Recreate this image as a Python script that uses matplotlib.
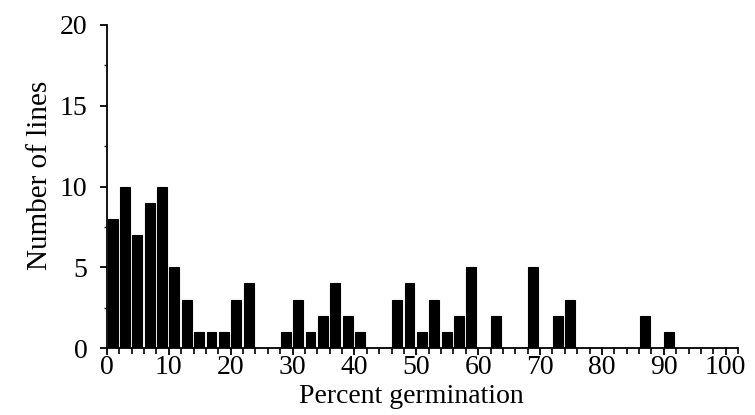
import numpy as np
import matplotlib
matplotlib.use('Agg')
import matplotlib.pyplot as plt
from matplotlib.ticker import MultipleLocator

# germination classes (left edge of each 2% class) and number of lines
bin_left = [0, 2, 4, 6, 8, 10, 12, 14, 16, 18, 20, 22,
            28, 30, 32, 34, 36, 38, 40,
            46, 48, 50, 52, 54, 56, 58, 62,
            68, 72, 74, 86, 90]
n_lines = [8, 10, 7, 9, 10, 5, 3, 1, 1, 1, 3, 4,
           1, 3, 1, 2, 4, 2, 1,
           3, 4, 1, 3, 1, 2, 5, 2,
           5, 2, 3, 2, 1]

x_ticks = [0, 10, 20, 30, 40, 50, 60, 70, 80, 90, 100]
y_ticks = [0, 5, 10, 15, 20]

plt.rcParams['font.family'] = ['Liberation Serif', 'DejaVu Serif']

fig = plt.figure(figsize=(7.55, 4.15), dpi=100)
ax = fig.add_axes([0.1417, 0.1614, 0.8358, 0.7784])

ax.bar(np.array(bin_left) + 0.1, n_lines, width=1.6, align='edge',
       color='black', edgecolor='black', linewidth=0.8)

ax.set_xlim(0, 102)
ax.set_ylim(0, 20)
ax.set_xticks(x_ticks)
ax.set_yticks(y_ticks)
ax.xaxis.set_minor_locator(MultipleLocator(2))
ax.yaxis.set_minor_locator(MultipleLocator(2.5))

ax.spines['top'].set_visible(False)
ax.spines['right'].set_visible(False)
ax.spines['left'].set_linewidth(1.3)
ax.spines['bottom'].set_linewidth(1.3)

ax.tick_params(axis='x', which='major', length=5, width=1.3, pad=0, labelsize=20)
ax.tick_params(axis='x', which='minor', length=4, width=1.2)
ax.tick_params(axis='y', which='major', length=5, width=1.3, pad=9, labelsize=20)
ax.tick_params(axis='y', which='minor', length=2, width=1.0)

ax.set_xlabel('Percent germination', fontsize=20)
ax.set_ylabel('Number of lines', fontsize=21)
ax.xaxis.set_label_coords(0.482, -0.11)
ax.yaxis.set_label_coords(-0.085, 0.535)

fig.savefig('out.png', dpi=100)
